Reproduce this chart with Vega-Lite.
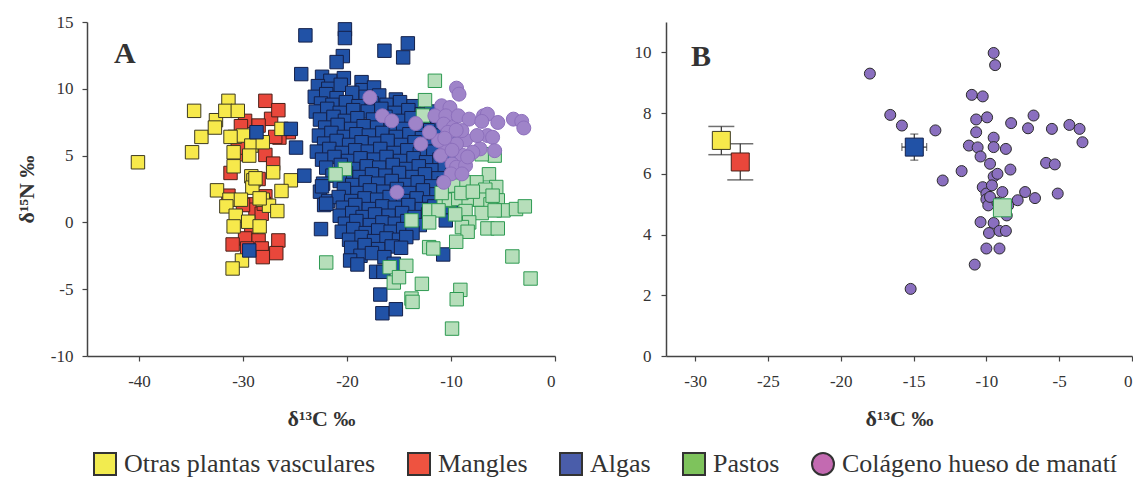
{
"$schema": "https://vega.github.io/schema/vega-lite/v6.json",
"background": "white",
"padding": {"left": 15, "top": 13, "right": 0, "bottom": 0},
"spacing": 78,
"datasets": {
"a": [
{"g":"M","x":-27.85,"y":9.1},{"g":"M","x":-29.8,"y":7.6},{"g":"M","x":-27.3,"y":7.75},{"g":"M","x":-26.6,"y":8.4},{"g":"M","x":-28.5,"y":7.25},{"g":"M","x":-25.6,"y":6.75},{"g":"M","x":-26.5,"y":6.35},{"g":"M","x":-29.9,"y":5.75},{"g":"M","x":-29.7,"y":5.1},{"g":"M","x":-27.85,"y":5.05},{"g":"M","x":-27.1,"y":4.4},{"g":"M","x":-31.2,"y":3.7},{"g":"M","x":-28.5,"y":3.25},{"g":"M","x":-31.4,"y":2.0},{"g":"M","x":-29.4,"y":1.35},{"g":"M","x":-28.8,"y":0.95},{"g":"M","x":-27.85,"y":1.95},{"g":"M","x":-28.2,"y":0.65},{"g":"M","x":-29.2,"y":-0.4},{"g":"M","x":-29.8,"y":-1.2},{"g":"M","x":-28.5,"y":-1.35},{"g":"M","x":-26.6,"y":-1.35},{"g":"M","x":-31.0,"y":-1.65},{"g":"M","x":-28.2,"y":-1.95},{"g":"M","x":-26.8,"y":-2.3},{"g":"M","x":-28.1,"y":-2.6},{"g":"M","x":-29.6,"y":-1.95},{"g":"M","x":-30.5,"y":5.6},{"g":"M","x":-30.2,"y":7.2},{"g":"M","x":-26.9,"y":6.4},{"g":"M","x":-28.0,"y":1.4},{"g":"M","x":-30.0,"y":1.3},
{"g":"O","x":-40.1,"y":4.5},{"g":"O","x":-34.7,"y":8.35},{"g":"O","x":-34.9,"y":5.25},{"g":"O","x":-34.0,"y":6.4},{"g":"O","x":-32.6,"y":7.65},{"g":"O","x":-32.7,"y":7.1},{"g":"O","x":-31.4,"y":9.1},{"g":"O","x":-31.7,"y":8.35},{"g":"O","x":-30.5,"y":8.35},{"g":"O","x":-30.8,"y":6.4},{"g":"O","x":-30.0,"y":6.5},{"g":"O","x":-30.9,"y":5.25},{"g":"O","x":-30.9,"y":4.2},{"g":"O","x":-29.2,"y":5.75},{"g":"O","x":-29.4,"y":5.0},{"g":"O","x":-28.1,"y":6.0},{"g":"O","x":-26.3,"y":7.0},{"g":"O","x":-27.1,"y":3.75},{"g":"O","x":-29.2,"y":3.45},{"g":"O","x":-29.0,"y":3.15},{"g":"O","x":-29.1,"y":2.6},{"g":"O","x":-25.4,"y":3.15},{"g":"O","x":-26.3,"y":2.35},{"g":"O","x":-32.5,"y":2.4},{"g":"O","x":-31.3,"y":1.7},{"g":"O","x":-30.2,"y":1.7},{"g":"O","x":-31.6,"y":1.2},{"g":"O","x":-28.1,"y":1.7},{"g":"O","x":-27.5,"y":1.25},{"g":"O","x":-26.7,"y":0.85},{"g":"O","x":-30.7,"y":0.5},{"g":"O","x":-29.5,"y":0.05},{"g":"O","x":-30.9,"y":-0.3},{"g":"O","x":-28.4,"y":-0.3},{"g":"O","x":-30.1,"y":-2.85},{"g":"O","x":-31.0,"y":-3.45},{"g":"O","x":-28.4,"y":1.8},{"g":"O","x":-31.2,"y":6.4},{"g":"O","x":-28.8,"y":3.3},
{"g":"A","x":-22.4,"y":10.9},{"g":"A","x":-21.6,"y":10.6},{"g":"A","x":-20.3,"y":10.8},{"g":"A","x":-18.6,"y":10.5},
{"g":"A","x":-22.8,"y":10.2},{"g":"A","x":-21.8,"y":10.0},{"g":"A","x":-20.6,"y":10.3},{"g":"A","x":-18.5,"y":9.9},{"g":"A","x":-17.4,"y":10.1},
{"g":"A","x":-23.1,"y":9.4},{"g":"A","x":-22.0,"y":9.6},{"g":"A","x":-21.0,"y":9.3},{"g":"A","x":-19.5,"y":9.7},{"g":"A","x":-18.2,"y":9.4},{"g":"A","x":-16.9,"y":9.5},{"g":"A","x":-15.3,"y":9.2},
{"g":"A","x":-22.5,"y":8.9},{"g":"A","x":-21.4,"y":8.8},{"g":"A","x":-20.1,"y":9.0},{"g":"A","x":-18.9,"y":8.7},{"g":"A","x":-17.6,"y":8.9},{"g":"A","x":-16.2,"y":8.8},{"g":"A","x":-14.9,"y":9.0},{"g":"A","x":-13.6,"y":8.7},
{"g":"A","x":-23.0,"y":8.3},{"g":"A","x":-21.9,"y":8.5},{"g":"A","x":-20.7,"y":8.2},{"g":"A","x":-19.4,"y":8.4},{"g":"A","x":-18.0,"y":8.3},{"g":"A","x":-16.7,"y":8.5},{"g":"A","x":-15.4,"y":8.2},{"g":"A","x":-14.1,"y":8.4},{"g":"A","x":-12.8,"y":8.1},{"g":"A","x":-11.9,"y":8.3},
{"g":"A","x":-22.6,"y":7.7},{"g":"A","x":-21.3,"y":7.9},{"g":"A","x":-20.2,"y":7.6},{"g":"A","x":-19.0,"y":7.8},{"g":"A","x":-17.5,"y":7.7},{"g":"A","x":-16.3,"y":7.9},{"g":"A","x":-15.0,"y":7.6},{"g":"A","x":-13.8,"y":7.8},{"g":"A","x":-12.6,"y":7.5},{"g":"A","x":-11.3,"y":7.7},
{"g":"A","x":-22.1,"y":7.1},{"g":"A","x":-20.9,"y":7.3},{"g":"A","x":-19.6,"y":7.0},{"g":"A","x":-18.4,"y":7.2},{"g":"A","x":-17.1,"y":7.1},{"g":"A","x":-15.8,"y":7.3},{"g":"A","x":-14.6,"y":7.0},{"g":"A","x":-13.2,"y":7.2},{"g":"A","x":-12.0,"y":6.9},{"g":"A","x":-10.9,"y":7.1},
{"g":"A","x":-22.7,"y":6.5},{"g":"A","x":-21.5,"y":6.7},{"g":"A","x":-20.3,"y":6.4},{"g":"A","x":-19.1,"y":6.6},{"g":"A","x":-17.9,"y":6.5},{"g":"A","x":-16.6,"y":6.7},{"g":"A","x":-15.3,"y":6.4},{"g":"A","x":-14.0,"y":6.6},{"g":"A","x":-12.8,"y":6.3},{"g":"A","x":-11.5,"y":6.5},{"g":"A","x":-10.2,"y":6.6},
{"g":"A","x":-22.2,"y":5.9},{"g":"A","x":-21.0,"y":6.1},{"g":"A","x":-19.8,"y":5.8},{"g":"A","x":-18.6,"y":6.0},{"g":"A","x":-17.3,"y":5.9},{"g":"A","x":-16.1,"y":6.1},{"g":"A","x":-14.8,"y":5.8},{"g":"A","x":-13.5,"y":6.0},{"g":"A","x":-12.3,"y":5.7},{"g":"A","x":-11.0,"y":5.9},
{"g":"A","x":-22.9,"y":5.3},{"g":"A","x":-21.7,"y":5.5},{"g":"A","x":-20.5,"y":5.2},{"g":"A","x":-19.2,"y":5.4},{"g":"A","x":-18.0,"y":5.3},{"g":"A","x":-16.8,"y":5.5},{"g":"A","x":-15.5,"y":5.2},{"g":"A","x":-14.2,"y":5.4},{"g":"A","x":-13.0,"y":5.1},{"g":"A","x":-11.7,"y":5.3},{"g":"A","x":-10.4,"y":5.4},
{"g":"A","x":-22.4,"y":4.7},{"g":"A","x":-21.2,"y":4.9},{"g":"A","x":-19.9,"y":4.6},{"g":"A","x":-18.7,"y":4.8},{"g":"A","x":-17.4,"y":4.7},{"g":"A","x":-16.2,"y":4.9},{"g":"A","x":-14.9,"y":4.6},{"g":"A","x":-13.6,"y":4.8},{"g":"A","x":-12.4,"y":4.5},{"g":"A","x":-11.1,"y":4.7},{"g":"A","x":-9.8,"y":4.8},
{"g":"A","x":-22.0,"y":4.1},{"g":"A","x":-20.6,"y":4.3},{"g":"A","x":-19.4,"y":4.0},{"g":"A","x":-18.1,"y":4.2},{"g":"A","x":-16.9,"y":4.1},{"g":"A","x":-15.6,"y":4.3},{"g":"A","x":-14.3,"y":4.0},{"g":"A","x":-13.1,"y":4.2},{"g":"A","x":-11.8,"y":3.9},{"g":"A","x":-10.6,"y":4.1},
{"g":"A","x":-21.4,"y":3.5},{"g":"A","x":-20.1,"y":3.7},{"g":"A","x":-18.8,"y":3.4},{"g":"A","x":-17.6,"y":3.6},{"g":"A","x":-16.3,"y":3.5},{"g":"A","x":-15.0,"y":3.7},{"g":"A","x":-13.7,"y":3.4},{"g":"A","x":-12.5,"y":3.6},{"g":"A","x":-11.2,"y":3.3},{"g":"A","x":-9.9,"y":3.5},
{"g":"A","x":-22.3,"y":2.9},{"g":"A","x":-20.7,"y":3.1},{"g":"A","x":-19.5,"y":2.8},{"g":"A","x":-18.2,"y":3.0},{"g":"A","x":-17.0,"y":2.9},{"g":"A","x":-15.7,"y":3.1},{"g":"A","x":-14.4,"y":2.8},{"g":"A","x":-13.2,"y":3.0},{"g":"A","x":-11.9,"y":2.7},{"g":"A","x":-10.7,"y":2.9},{"g":"A","x":-9.4,"y":3.0},
{"g":"A","x":-22.6,"y":2.3},{"g":"A","x":-20.3,"y":2.5},{"g":"A","x":-19.0,"y":2.2},{"g":"A","x":-17.8,"y":2.4},{"g":"A","x":-16.5,"y":2.3},{"g":"A","x":-15.2,"y":2.5},{"g":"A","x":-14.0,"y":2.2},{"g":"A","x":-12.7,"y":2.4},{"g":"A","x":-11.4,"y":2.1},{"g":"A","x":-10.1,"y":2.3},
{"g":"A","x":-21.8,"y":1.6},{"g":"A","x":-20.8,"y":1.9},{"g":"A","x":-19.6,"y":1.6},{"g":"A","x":-18.3,"y":1.8},{"g":"A","x":-17.1,"y":1.7},{"g":"A","x":-15.9,"y":1.9},{"g":"A","x":-14.6,"y":1.6},{"g":"A","x":-13.3,"y":1.8},{"g":"A","x":-12.1,"y":1.5},{"g":"A","x":-10.8,"y":1.7},
{"g":"A","x":-22.2,"y":1.3},{"g":"A","x":-20.4,"y":1.1},{"g":"A","x":-19.2,"y":1.3},{"g":"A","x":-17.9,"y":1.0},{"g":"A","x":-16.6,"y":1.2},{"g":"A","x":-15.4,"y":1.1},{"g":"A","x":-14.1,"y":1.3},{"g":"A","x":-12.8,"y":1.0},{"g":"A","x":-11.6,"y":1.2},
{"g":"A","x":-20.7,"y":0.5},{"g":"A","x":-19.5,"y":0.7},{"g":"A","x":-18.5,"y":0.4},{"g":"A","x":-17.3,"y":0.6},{"g":"A","x":-16.0,"y":0.5},{"g":"A","x":-14.7,"y":0.7},{"g":"A","x":-13.5,"y":0.4},{"g":"A","x":-12.2,"y":0.6},
{"g":"A","x":-20.2,"y":-0.1},{"g":"A","x":-19.1,"y":0.1},{"g":"A","x":-17.8,"y":-0.2},{"g":"A","x":-16.6,"y":0.0},{"g":"A","x":-15.4,"y":-0.1},{"g":"A","x":-14.2,"y":0.1},{"g":"A","x":-13.0,"y":-0.2},
{"g":"A","x":-20.5,"y":-0.7},{"g":"A","x":-19.4,"y":-0.5},{"g":"A","x":-18.2,"y":-0.8},{"g":"A","x":-17.0,"y":-0.6},{"g":"A","x":-15.8,"y":-0.7},{"g":"A","x":-14.6,"y":-0.5},{"g":"A","x":-13.7,"y":-0.8},
{"g":"A","x":-19.8,"y":-1.3},{"g":"A","x":-18.6,"y":-1.1},{"g":"A","x":-17.4,"y":-1.4},{"g":"A","x":-16.2,"y":-1.2},{"g":"A","x":-15.0,"y":-1.3},{"g":"A","x":-14.3,"y":-1.1},
{"g":"A","x":-19.6,"y":-1.9},{"g":"A","x":-18.3,"y":-1.7},{"g":"A","x":-17.0,"y":-2.0},{"g":"A","x":-15.7,"y":-1.8},{"g":"A","x":-14.8,"y":-1.9},
{"g":"A","x":-18.7,"y":-2.5},{"g":"A","x":-17.6,"y":-2.3},{"g":"A","x":-16.4,"y":-2.6},
{"g":"A","x":-24.0,"y":14.0},{"g":"A","x":-20.2,"y":14.45},{"g":"A","x":-20.2,"y":13.8},{"g":"A","x":-16.4,"y":12.85},{"g":"A","x":-14.15,"y":13.4},{"g":"A","x":-14.6,"y":12.35},{"g":"A","x":-20.4,"y":12.45},{"g":"A","x":-21.0,"y":12.0},{"g":"A","x":-24.4,"y":11.1},{"g":"A","x":-24.9,"y":5.6},{"g":"A","x":-24.1,"y":3.5},{"g":"A","x":-22.5,"y":-0.5},{"g":"A","x":-22.0,"y":1.4},{"g":"A","x":-22.4,"y":2.7},{"g":"A","x":-10.75,"y":-2.4},{"g":"A","x":-16.6,"y":-6.8},{"g":"A","x":-15.3,"y":-6.5},{"g":"A","x":-16.8,"y":-5.4},{"g":"A","x":-15.5,"y":-3.1},{"g":"A","x":-17.2,"y":-3.7},{"g":"A","x":-16.5,"y":-3.7},{"g":"A","x":-19.7,"y":-2.85},{"g":"A","x":-19.0,"y":-3.15},{"g":"A","x":-10.5,"y":0.15},{"g":"A","x":-8.8,"y":2.5},{"g":"A","x":-6.9,"y":1.15},{"g":"A","x":-10.0,"y":1.15},{"g":"A","x":-28.7,"y":6.75},{"g":"A","x":-25.4,"y":7.0},{"g":"A","x":-29.4,"y":-2.1},
{"g":"P","x":-11.55,"y":10.6},{"g":"P","x":-12.5,"y":9.15},{"g":"P","x":-12.7,"y":8.0},{"g":"P","x":-5.8,"y":5.0},{"g":"P","x":-6.35,"y":3.6},{"g":"P","x":-5.65,"y":2.65},{"g":"P","x":-7.55,"y":3.0},{"g":"P","x":-6.7,"y":2.45},{"g":"P","x":-8.8,"y":3.0},{"g":"P","x":-9.8,"y":2.75},{"g":"P","x":-10.7,"y":1.65},{"g":"P","x":-10.2,"y":1.7},{"g":"P","x":-9.3,"y":1.75},{"g":"P","x":-8.3,"y":1.7},{"g":"P","x":-7.2,"y":1.7},{"g":"P","x":-5.5,"y":1.65},{"g":"P","x":-6.2,"y":1.35},{"g":"P","x":-4.95,"y":0.9},{"g":"P","x":-3.75,"y":1.0},{"g":"P","x":-2.9,"y":1.2},{"g":"P","x":-12.1,"y":0.9},{"g":"P","x":-11.2,"y":0.9},{"g":"P","x":-8.6,"y":0.85},{"g":"P","x":-7.05,"y":0.7},{"g":"P","x":-5.8,"y":0.9},{"g":"P","x":-12.1,"y":0.0},{"g":"P","x":-13.8,"y":0.15},{"g":"P","x":-8.25,"y":0.0},{"g":"P","x":-8.95,"y":-0.35},{"g":"P","x":-8.4,"y":-0.7},{"g":"P","x":-6.5,"y":-0.45},{"g":"P","x":-5.5,"y":-0.45},{"g":"P","x":-12.1,"y":-1.85},{"g":"P","x":-11.7,"y":-1.95},{"g":"P","x":-9.5,"y":-1.45},{"g":"P","x":-4.1,"y":-2.55},{"g":"P","x":-2.35,"y":-4.2},{"g":"P","x":-22.0,"y":-3.0},{"g":"P","x":-15.9,"y":-3.35},{"g":"P","x":-14.3,"y":-3.25},{"g":"P","x":-15.5,"y":-4.5},{"g":"P","x":-15.0,"y":-4.1},{"g":"P","x":-12.8,"y":-4.6},{"g":"P","x":-13.8,"y":-5.7},{"g":"P","x":-13.7,"y":-5.95},{"g":"P","x":-9.1,"y":-5.05},{"g":"P","x":-9.45,"y":-5.75},{"g":"P","x":-9.9,"y":-7.95},{"g":"P","x":-20.2,"y":4.0},{"g":"P","x":-21.1,"y":3.6},{"g":"P","x":-7.05,"y":5.1},{"g":"P","x":-9.0,"y":2.2},{"g":"P","x":-7.9,"y":2.3},{"g":"P","x":-6.0,"y":2.0},{"g":"P","x":-10.9,"y":2.2},{"g":"P","x":-9.6,"y":0.6},
{"g":"C","x":-9.47,"y":10.05},{"g":"C","x":-9.23,"y":9.6},{"g":"C","x":-17.8,"y":9.35},{"g":"C","x":-16.6,"y":7.98},{"g":"C","x":-15.7,"y":7.6},{"g":"C","x":-13.4,"y":7.4},{"g":"C","x":-10.9,"y":8.73},{"g":"C","x":-10.1,"y":8.6},{"g":"C","x":-11.55,"y":7.98},{"g":"C","x":-10.5,"y":7.98},{"g":"C","x":-10.7,"y":7.36},{"g":"C","x":-9.8,"y":7.11},{"g":"C","x":-9.3,"y":7.98},{"g":"C","x":-8.26,"y":7.73},{"g":"C","x":-6.87,"y":7.98},{"g":"C","x":-6.5,"y":8.1},{"g":"C","x":-7.04,"y":7.56},{"g":"C","x":-5.5,"y":7.48},{"g":"C","x":-4.0,"y":7.73},{"g":"C","x":-3.2,"y":7.56},{"g":"C","x":-3.0,"y":7.07},{"g":"C","x":-6.5,"y":6.5},{"g":"C","x":-6.0,"y":6.37},{"g":"C","x":-5.8,"y":5.37},{"g":"C","x":-7.2,"y":5.5},{"g":"C","x":-7.9,"y":5.25},{"g":"C","x":-8.95,"y":5.05},{"g":"C","x":-8.6,"y":6.17},{"g":"C","x":-9.47,"y":5.87},{"g":"C","x":-10.5,"y":5.62},{"g":"C","x":-11.2,"y":6.12},{"g":"C","x":-10.3,"y":6.74},{"g":"C","x":-8.95,"y":6.87},{"g":"C","x":-12.07,"y":6.74},{"g":"C","x":-12.9,"y":5.87},{"g":"C","x":-11.0,"y":5.0},{"g":"C","x":-9.9,"y":4.38},{"g":"C","x":-9.47,"y":4.13},{"g":"C","x":-8.6,"y":4.25},{"g":"C","x":-9.99,"y":3.63},{"g":"C","x":-8.95,"y":3.63},{"g":"C","x":-10.7,"y":3.0},{"g":"C","x":-15.2,"y":2.26},{"g":"C","x":-9.5,"y":6.9},{"g":"C","x":-10.6,"y":6.3},{"g":"C","x":-9.9,"y":5.4},{"g":"C","x":-8.4,"y":4.9},{"g":"C","x":-7.5,"y":6.5}
],
"b": [
{"x":-18.0,"y":9.3},{"x":-16.6,"y":7.94},{"x":-15.8,"y":7.59},{"x":-13.5,"y":7.43},{"x":-13.0,"y":5.78},{"x":-15.2,"y":2.21},{"x":-11.7,"y":6.09},{"x":-11.0,"y":8.6},{"x":-10.25,"y":8.55},{"x":-9.5,"y":9.98},{"x":-9.4,"y":9.58},{"x":-10.7,"y":7.79},{"x":-9.95,"y":7.86},{"x":-10.7,"y":7.37},{"x":-9.5,"y":7.19},{"x":-11.2,"y":6.93},{"x":-10.6,"y":6.87},{"x":-9.5,"y":6.88},{"x":-8.66,"y":6.82},{"x":-10.4,"y":6.57},{"x":-9.75,"y":6.33},{"x":-8.35,"y":6.14},{"x":-8.3,"y":7.67},{"x":-7.14,"y":7.5},{"x":-6.76,"y":7.92},{"x":-5.5,"y":7.48},{"x":-4.3,"y":7.61},{"x":-3.6,"y":7.48},{"x":-3.4,"y":7.04},{"x":-5.9,"y":6.36},{"x":-5.3,"y":6.31},{"x":-5.1,"y":5.35},{"x":-7.34,"y":5.4},{"x":-6.66,"y":5.2},{"x":-7.85,"y":5.13},{"x":-8.5,"y":4.96},{"x":-10.25,"y":5.56},{"x":-9.5,"y":5.91},{"x":-9.24,"y":6.0},{"x":-10.0,"y":5.35},{"x":-8.9,"y":5.4},{"x":-9.62,"y":5.62},{"x":-10.0,"y":5.16},{"x":-9.87,"y":4.96},{"x":-8.6,"y":4.63},{"x":-10.4,"y":4.41},{"x":-9.5,"y":4.38},{"x":-9.82,"y":4.05},{"x":-9.1,"y":4.12},{"x":-8.66,"y":4.12},{"x":-10.0,"y":3.54},{"x":-9.1,"y":3.54},{"x":-10.8,"y":3.01},{"x":-9.24,"y":5.05},{"x":-9.75,"y":5.24}
],
"bm": [
{"g":"O","x":-28.2,"y":7.1,"ylo":6.63,"yhi":7.56},
{"g":"M","x":-26.9,"y":6.39,"ylo":5.8,"yhi":6.99},
{"g":"A","x":-14.95,"y":6.88,"ylo":6.45,"yhi":7.31,"xlo":-15.8,"xhi":-14.1},
{"g":"P","x":-8.9,"y":4.88}
]
},
"hconcat": [
{
"width": 468, "height": 334,
"title": {"text": "A", "anchor": "start", "frame": "group", "offset": 0, "dx": 27, "dy": 80, "baseline": "alphabetic", "fontSize": 30, "font": "Liberation Serif", "fontWeight": "bold", "color": "#333"},
"encoding": {
"x": {"field": "x", "type": "quantitative", "scale": {"domain": [-45, 0], "nice": false, "zero": false}, "axis": {"values": [-40, -30, -20, -10, 0], "title": "δ¹³C ‰", "labelExpr": "'' + datum.value", "labelPadding": 12, "titlePadding": 19}},
"y": {"field": "y", "type": "quantitative", "scale": {"domain": [-10, 15], "nice": false, "zero": false}, "axis": {"values": [-10, -5, 0, 5, 10, 15], "title": "δ¹⁵N ‰", "labelExpr": "'' + datum.value", "labelPadding": 9, "titlePadding": 12}}
},
"layer": [
{"data": {"name": "a"}, "transform": [{"filter": "datum.g != 'C'"}],
 "mark": {"type": "point", "shape": "square", "filled": true, "size": 180, "strokeWidth": 1, "opacity": 1},
 "encoding": {
 "fill": {"field": "g", "type": "nominal", "legend": null, "scale": {"domain": ["O", "M", "A", "P", "C"], "range": ["#F7E94B", "#E9473B", "#2152A6", "#B6DEBA", "#9F84C9"]}},
 "stroke": {"field": "g", "type": "nominal", "legend": null, "scale": {"domain": ["O", "M", "A", "P", "C"], "range": ["#3d3a20", "#4a2018", "#14204a", "#2E9A52", "#8D70BC"]}}
 }},
{"data": {"name": "a"}, "transform": [{"filter": "datum.g == 'C'"}],
 "mark": {"type": "point", "shape": "circle", "filled": true, "size": 196, "strokeWidth": 1, "opacity": 1},
 "encoding": {
 "fill": {"field": "g", "type": "nominal", "legend": null},
 "stroke": {"field": "g", "type": "nominal", "legend": null}
 }},
{"data": {"name": "a"}, "transform": [{"filter": "false"}],
 "mark": {"type": "point", "filled": true, "stroke": "#333", "strokeWidth": 2, "opacity": 1},
 "encoding": {
 "color": {"field": "g", "type": "nominal", "scale": {"domain": ["Otras plantas vasculares", "Mangles", "Algas", "Pastos", "Colágeno hueso de manatí"], "range": ["#F2EB4F", "#EE5340", "#4A5DAA", "#7EC35C", "#C36AB1"]},
  "legend": {"title": null, "orient": "none", "direction": "horizontal", "legendX": 5, "legendY": 429, "labelFont": "Liberation Serif", "labelFontSize": 26, "labelColor": "#333", "symbolSize": 484, "symbolStrokeWidth": 2, "symbolStrokeColor": "#333", "columnPadding": 28, "labelOffset": 6, "labelLimit": 400}},
 "shape": {"field": "g", "type": "nominal", "scale": {"domain": ["Otras plantas vasculares", "Mangles", "Algas", "Pastos", "Colágeno hueso de manatí"], "range": ["square", "square", "square", "square", "circle"]},
  "legend": {"title": null, "orient": "none", "direction": "horizontal", "legendX": 5, "legendY": 429, "labelFont": "Liberation Serif", "labelFontSize": 26, "labelColor": "#333", "symbolSize": 484, "symbolStrokeWidth": 2, "symbolStrokeColor": "#333", "columnPadding": 28, "labelOffset": 6, "labelLimit": 400}}
 }}
]
},
{
"width": 466, "height": 334,
"title": {"text": "B", "anchor": "start", "frame": "group", "offset": 0, "dx": 25, "dy": 74, "baseline": "alphabetic", "fontSize": 30, "font": "Liberation Serif", "fontWeight": "bold", "color": "#333"},
"layer": [
{"data": {"name": "bm"}, "transform": [{"filter": "datum.g == 'O' || datum.g == 'M'"}],
 "mark": {"type": "errorbar", "color": "#333", "thickness": 1.2, "ticks": {"size": 26, "thickness": 1.5}},
 "encoding": {
 "x": {"field": "x", "type": "quantitative", "scale": {"domain": [-32, 0], "nice": false, "zero": false}, "axis": {"values": [-30, -25, -20, -15, -10, -5, 0], "title": "δ¹³C ‰", "labelExpr": "'' + datum.value", "labelPadding": 12, "titlePadding": 19}},
 "y": {"field": "ylo", "type": "quantitative", "scale": {"domain": [0, 11], "nice": false, "zero": false}, "axis": {"values": [0, 2, 4, 6, 8, 10], "title": null, "labelExpr": "'' + datum.value", "labelPadding": 10}},
 "y2": {"field": "yhi"}
 }},
{"data": {"name": "bm"}, "transform": [{"filter": "datum.g == 'A'"}],
 "mark": {"type": "errorbar", "color": "#333", "thickness": 1.2, "ticks": {"size": 8, "thickness": 1.2}},
 "encoding": {
 "x": {"field": "x", "type": "quantitative", "scale": {"domain": [-32, 0], "nice": false, "zero": false}, "axis": {"values": [-30, -25, -20, -15, -10, -5, 0], "title": "δ¹³C ‰", "labelExpr": "'' + datum.value", "labelPadding": 12, "titlePadding": 19}},
 "y": {"field": "ylo", "type": "quantitative", "scale": {"domain": [0, 11], "nice": false, "zero": false}, "axis": {"values": [0, 2, 4, 6, 8, 10], "title": null, "labelExpr": "'' + datum.value", "labelPadding": 10}},
 "y2": {"field": "yhi"}
 }},
{"data": {"name": "bm"}, "transform": [{"filter": "datum.g == 'A'"}],
 "mark": {"type": "errorbar", "color": "#333", "thickness": 1.2, "ticks": {"size": 8, "thickness": 1.2}},
 "encoding": {
 "y": {"field": "y", "type": "quantitative", "scale": {"domain": [0, 11], "nice": false, "zero": false}, "axis": {"values": [0, 2, 4, 6, 8, 10], "title": null, "labelExpr": "'' + datum.value", "labelPadding": 10}},
 "x": {"field": "xlo", "type": "quantitative", "scale": {"domain": [-32, 0], "nice": false, "zero": false}, "axis": {"values": [-30, -25, -20, -15, -10, -5, 0], "title": "δ¹³C ‰", "labelExpr": "'' + datum.value", "labelPadding": 12, "titlePadding": 19}},
 "x2": {"field": "xhi"}
 }},
{"data": {"name": "b"},
 "mark": {"type": "point", "shape": "circle", "filled": true, "size": 121, "fill": "#8A6FBF", "stroke": "#2b2b2b", "strokeWidth": 1, "opacity": 1},
 "encoding": {
 "x": {"field": "x", "type": "quantitative", "scale": {"domain": [-32, 0], "nice": false, "zero": false}, "axis": {"values": [-30, -25, -20, -15, -10, -5, 0], "title": "δ¹³C ‰", "labelExpr": "'' + datum.value", "labelPadding": 12, "titlePadding": 19}},
 "y": {"field": "y", "type": "quantitative", "scale": {"domain": [0, 11], "nice": false, "zero": false}, "axis": {"values": [0, 2, 4, 6, 8, 10], "title": null, "labelExpr": "'' + datum.value", "labelPadding": 10}}
 }},
{"data": {"name": "bm"},
 "mark": {"type": "point", "shape": "square", "filled": true, "size": 324, "strokeWidth": 1, "opacity": 1},
 "encoding": {
 "x": {"field": "x", "type": "quantitative", "scale": {"domain": [-32, 0], "nice": false, "zero": false}, "axis": {"values": [-30, -25, -20, -15, -10, -5, 0], "title": "δ¹³C ‰", "labelExpr": "'' + datum.value", "labelPadding": 12, "titlePadding": 19}},
 "y": {"field": "y", "type": "quantitative", "scale": {"domain": [0, 11], "nice": false, "zero": false}, "axis": {"values": [0, 2, 4, 6, 8, 10], "title": null, "labelExpr": "'' + datum.value", "labelPadding": 10}},
 "fill": {"field": "g", "type": "nominal", "legend": null},
 "stroke": {"field": "g", "type": "nominal", "legend": null}
 }}
]
}
],
"config": {
"view": {"stroke": null},
"font": "Liberation Serif",
"legend": {"labelFont": "Liberation Serif"},
"axis": {"grid": false, "domainColor": "#444", "domainWidth": 1.5, "tickColor": "#444", "tickWidth": 1.2, "tickSize": 5, "labelFont": "Liberation Serif", "labelFontSize": 17, "labelColor": "#333", "titleFont": "Liberation Serif", "titleFontSize": 22, "titleColor": "#333", "titleFontWeight": "bold"}
}
}
